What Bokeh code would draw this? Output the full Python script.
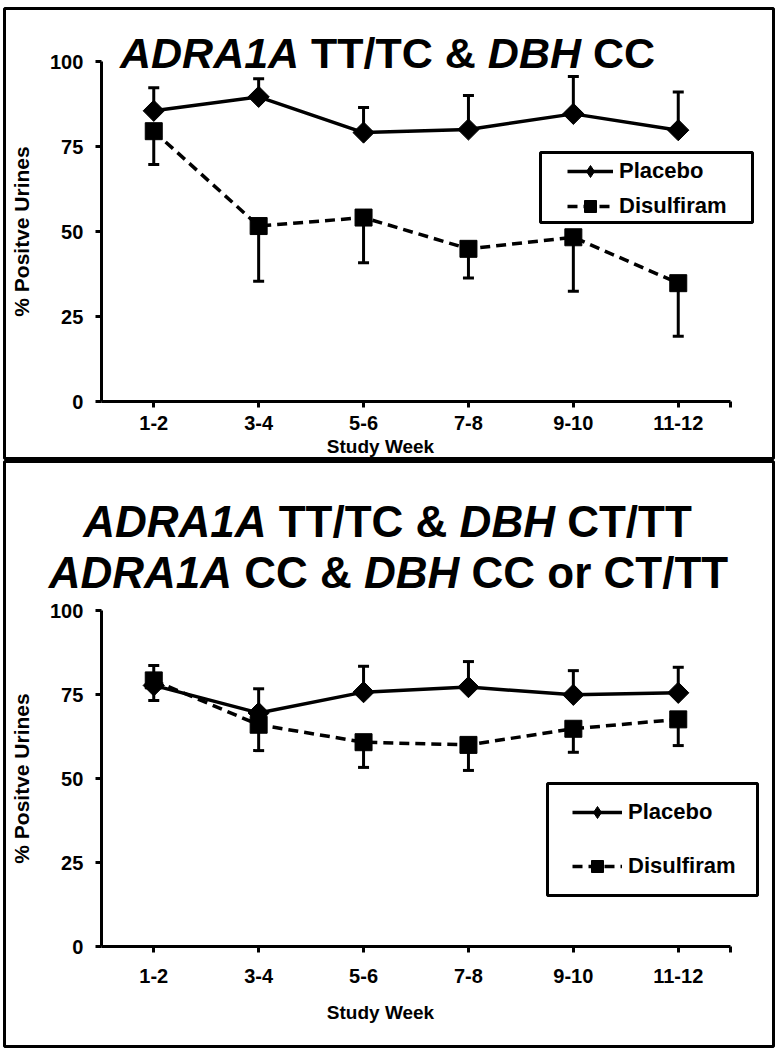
from math import pi
from bokeh.plotting import figure
from bokeh.models import (ColumnDataSource, Whisker, TeeHead, Label, BoxAnnotation,
                          Legend, LegendItem, FixedTicker)
from bokeh.layouts import column
from bokeh.embed import file_html
from bokeh.resources import INLINE

FONT = "Liberation Sans"

# ---------------- data ----------------
weeks = ["1-2", "3-4", "5-6", "7-8", "9-10", "11-12"]
week_pos = [1, 2, 3, 4, 5, 6]

# Panel A: ADRA1A TT/TC & DBH CC
placebo_a = [85.5, 89.6, 79.1, 80.0, 84.6, 79.8]
placebo_a_upper = [92.3, 94.9, 86.5, 90.0, 95.6, 91.0]
disulfiram_a = [79.5, 51.6, 54.1, 44.9, 48.3, 34.8]
disulfiram_a_lower = [69.7, 35.4, 40.8, 36.3, 32.4, 19.2]

# Panel B: other genotype groups
placebo_b = [77.7, 69.5, 75.7, 77.2, 74.9, 75.5]
placebo_b_upper = [83.6, 76.7, 83.4, 84.8, 82.1, 83.1]
disulfiram_b = [79.2, 66.0, 60.8, 60.0, 64.8, 67.6]
disulfiram_b_lower = [73.2, 58.3, 53.3, 52.4, 57.8, 59.8]

y_ticks = [0, 25, 50, 75, 100]
series_names = ["Placebo", "Disulfiram"]

# Arial/Liberation Sans Bold advance widths (per 1000 em) for title layout
WID = {"A": 722, "D": 722, "R": 722, "1": 556, "T": 611, "/": 278, "C": 722,
       "&": 722, "B": 722, "H": 722, "o": 611, "r": 389, " ": 278}

# ---------------- layout (page pixels) ----------------
W = 776
FRAME_L, FRAME_R = 4, 773          # frame (panel box) left/right on the page
AXIS_X0, STEP = 100.8, 104.9       # page x of the axis start (x=0.5) and px per week


def text_w(s, size):
    return sum(WID[c] for c in s) * size / 1000.0


def add_title_line(p, pieces, size, cx, base):
    full = " ".join(t for t, _ in pieces)
    x = cx - text_w(full, size) / 2.0
    for t, ital in pieces:
        p.add_layout(Label(x=x, y=base, x_units="screen", y_units="screen", text=t,
                           text_font=FONT, text_font_size=f"{size}px",
                           text_font_style="bold italic" if ital else "bold",
                           text_baseline="alphabetic", text_align="left",
                           text_color="black"))
        x += text_w(t + " ", size)


def make_panel(page_top, height, frame_top, frame_bot, y0_px, ppu,
               placebo, plac_up, disul, dis_lo,
               titles, title_size, legend_cfg, xlab_standoff, week_label_page):
    x_start = 0.5 - (AXIS_X0 - FRAME_L) / STEP
    x_end = 0.5 + (FRAME_R - AXIS_X0) / STEP
    y_end = (y0_px - frame_top) / ppu
    y_start = (y0_px - frame_bot) / ppu

    def sx(px):
        return px - FRAME_L

    def sy(py):
        return frame_bot - py

    p = figure(width=W, height=height, x_range=(x_start, x_end), y_range=(y_start, y_end),
               output_backend="svg", toolbar_location=None,
               min_border_left=FRAME_L, min_border_right=W - FRAME_R,
               min_border_top=frame_top - page_top,
               min_border_bottom=page_top + height - frame_bot,
               background_fill_color="white", border_fill_color="white")
    p.outline_line_color = "black"
    p.outline_line_width = 3
    p.grid.visible = False

    # axes drawn inside the panel
    p.xaxis.fixed_location = 0
    p.yaxis.fixed_location = 0.5
    p.xaxis.bounds = (0.5, 6.5)
    p.yaxis.bounds = (0, 100)
    p.xaxis.ticker = FixedTicker(ticks=week_pos + [6.5])
    ov = {float(k): v for k, v in zip(week_pos, weeks)}
    ov[6.5] = ""
    p.xaxis.major_label_overrides = ov
    p.yaxis.ticker = FixedTicker(ticks=y_ticks)
    for ax in (p.xaxis[0], p.yaxis[0]):
        ax.axis_line_width = 3
        ax.axis_line_color = "black"
        ax.major_tick_line_width = 3
        ax.major_tick_line_color = "black"
        ax.major_tick_out = 6
        ax.major_tick_in = 0
        ax.minor_tick_line_color = None
        ax.major_label_text_font = FONT
        ax.major_label_text_font_size = "20px"
        ax.major_label_text_font_style = "bold"
        ax.major_label_text_color = "black"
    p.xaxis.major_label_standoff = xlab_standoff
    p.yaxis.major_label_standoff = 12
    p.yaxis.axis_label = "% Positve Urines"
    p.yaxis.axis_label_text_font = FONT
    p.yaxis.axis_label_text_font_size = "21px"
    p.yaxis.axis_label_text_font_style = "bold"
    p.yaxis.axis_label_text_color = "black"
    p.yaxis.axis_label_standoff = 14

    src_p = ColumnDataSource(dict(x=week_pos, y=placebo, up=plac_up))
    src_d = ColumnDataSource(dict(x=week_pos, y=disul, lo=dis_lo))

    p.add_layout(Whisker(source=src_p, base="x", upper="up", lower="y",
                         dimension="height", line_width=3, line_color="black",
                         upper_head=TeeHead(size=11, line_width=3, line_color="black"),
                         lower_head=None))
    p.add_layout(Whisker(source=src_d, base="x", upper="y", lower="lo",
                         dimension="height", line_width=3, line_color="black",
                         lower_head=TeeHead(size=11, line_width=3, line_color="black"),
                         upper_head=None))

    ds_line = p.line("x", "y", source=src_d, line_width=3.5, line_color="black",
                     line_dash="10 6")
    ds_mark = p.scatter("x", "y", source=src_d, marker="square", size=17,
                        fill_color="black", line_color="black")
    pl_line = p.line("x", "y", source=src_p, line_width=3.5, line_color="black")
    pl_mark = p.scatter("x", "y", source=src_p, marker="square", angle=pi / 4,
                        size=15, fill_color="black", line_color="black")
    # legend-only diamond glyph (no visible points)
    pl_key = p.scatter(x=[float("nan")], y=[float("nan")], marker="diamond",
                       fill_color="black", line_color="black")

    # legend
    (bl, br, bt, bb), (gx, gy_bottom), gw, spacing = legend_cfg
    p.add_layout(BoxAnnotation(left=sx(bl), right=sx(br), bottom=sy(bb), top=sy(bt),
                               left_units="screen", right_units="screen",
                               bottom_units="screen", top_units="screen",
                               fill_alpha=0, line_color="black", line_width=3,
                               line_alpha=1))
    leg = Legend(items=[LegendItem(label=series_names[0], renderers=[pl_line, pl_key]),
                        LegendItem(label=series_names[1], renderers=[ds_line, ds_mark])],
                 location=(sx(gx), sy(gy_bottom)), padding=0, margin=0, spacing=spacing,
                 glyph_width=gw, glyph_height=30, label_height=30, label_standoff=6,
                 border_line_alpha=0, background_fill_alpha=0,
                 label_text_font=FONT, label_text_font_size="22px",
                 label_text_font_style="bold", label_text_color="black")
    p.add_layout(leg)

    # titles
    for pieces, cx, base in titles:
        add_title_line(p, pieces, title_size, sx(cx), sy(base))

    # x-axis title
    p.add_layout(Label(x=sx(week_label_page[0]), y=sy(week_label_page[1]),
                       x_units="screen", y_units="screen", text="Study Week",
                       text_font=FONT, text_font_size="19px", text_font_style="bold",
                       text_align="center", text_baseline="middle", text_color="black"))
    return p


title_a = [("ADRA1A", True), ("TT/TC", False), ("&", False), ("DBH", True), ("CC", False)]
title_b1 = [("ADRA1A", True), ("TT/TC", False), ("&", False), ("DBH", True), ("CT/TT", False)]
title_b2 = [("ADRA1A", True), ("CC", False), ("&", False), ("DBH", True), ("CC", False),
            ("or", False), ("CT/TT", False)]

pa = make_panel(0, 460, 8, 458, 401, 3.4,
                placebo_a, placebo_a_upper, disulfiram_a, disulfiram_a_lower,
                [(title_a, 387, 52)], 43,
                ((540, 752, 152, 222), (567, 221), 46, 5),
                8, (380, 446))

pb = make_panel(460, 590, 461, 1046, 946, 3.36,
                placebo_b, placebo_b_upper, disulfiram_b, disulfiram_b_lower,
                [(title_b1, 387, 521), (title_b2, 388, 572)], 44,
                ((547, 757, 783, 895), (572, 881), 50, 24),
                16, (380, 1012))

layout = column(pa, pb)
open("out.html", "w").write(file_html(layout, INLINE))
